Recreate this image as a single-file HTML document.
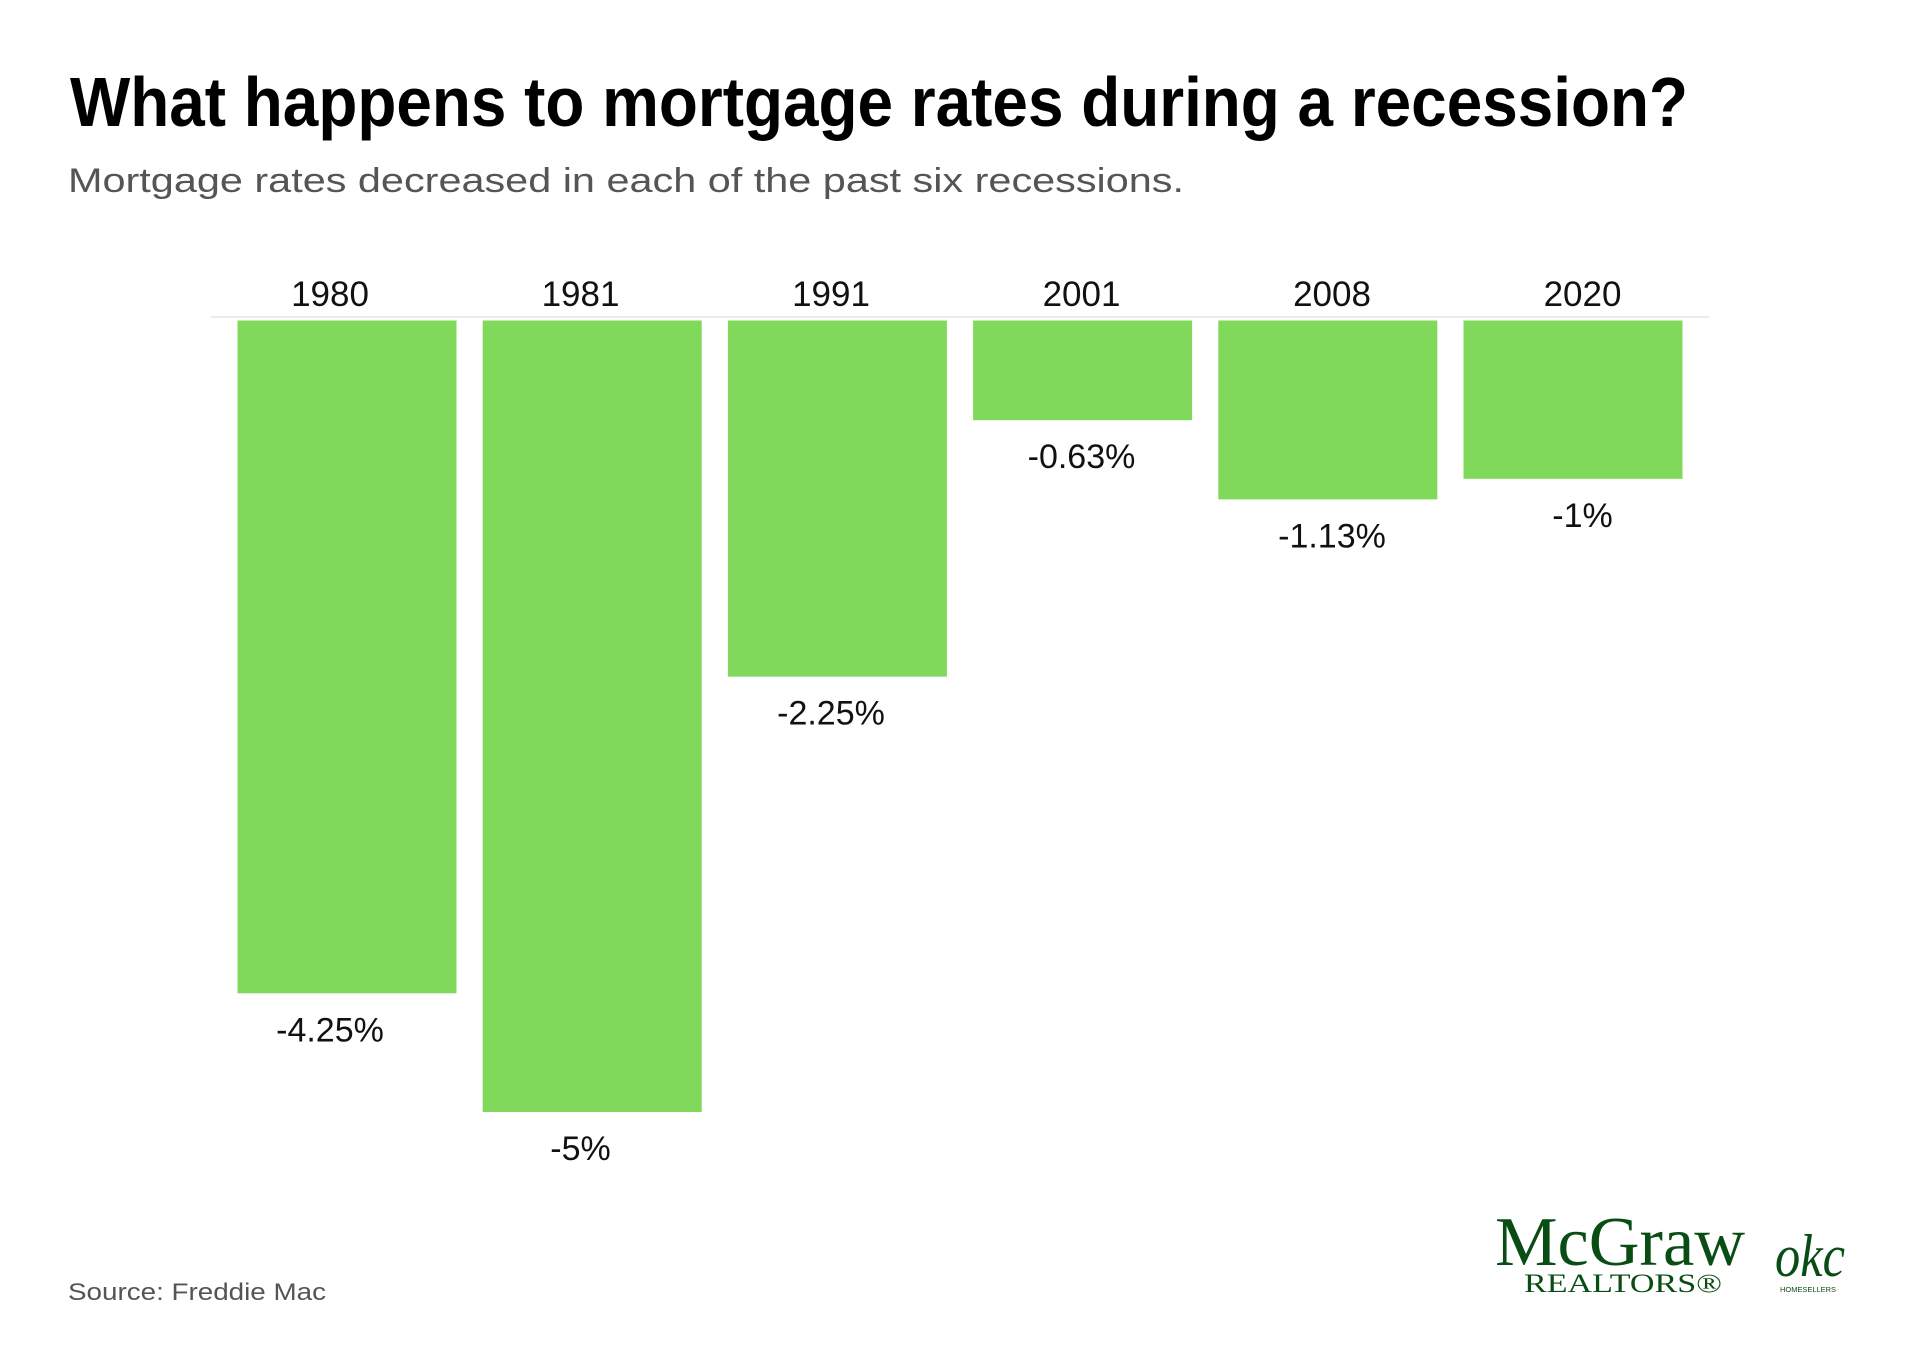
<!DOCTYPE html>
<html><head><meta charset="utf-8"><style>
html,body{margin:0;padding:0;background:#fff;}
svg{display:block;font-family:"Liberation Sans",sans-serif;}
</style></head><body>
<svg id="chart" width="1920" height="1350" viewBox="0 0 1920 1350" xmlns="http://www.w3.org/2000/svg">
<text x="70" y="126" font-size="70" font-weight="bold" fill="#000" textLength="1618" lengthAdjust="spacingAndGlyphs">What happens to mortgage rates during a recession?</text>
<text x="68" y="192" font-size="34" fill="#555" textLength="1116" lengthAdjust="spacingAndGlyphs">Mortgage rates decreased in each of the past six recessions.</text>
<line x1="211" y1="317" x2="1709" y2="317" stroke="#e6e6e6" stroke-width="1.5"/>
<g id="bars"></g>
<text x="68" y="1300" font-size="24" fill="#555" textLength="258" lengthAdjust="spacingAndGlyphs">Source: Freddie Mac</text>
<g fill="#0a4d14">
<text x="1495" y="1265" font-family="Liberation Serif, serif" font-size="70" textLength="250" lengthAdjust="spacingAndGlyphs">McGraw</text>
<text x="1524" y="1292" font-family="Liberation Serif, serif" font-size="26" textLength="198" lengthAdjust="spacingAndGlyphs">REALTORS®</text>
</g>
<g fill="#0a4d14">
<text x="1775" y="1276" font-family="Liberation Serif, serif" font-style="italic" font-size="60" textLength="70" lengthAdjust="spacingAndGlyphs">okc</text>
<text x="1780" y="1292" font-size="7" textLength="56" lengthAdjust="spacingAndGlyphs">HOMESELLERS</text>
</g>
</svg>
<script>
const categories = ["1980","1981","1991","2001","2008","2020"];
const values = [-4.25, -5, -2.25, -0.63, -1.13, -1];
const valueLabels = ["-4.25%","-5%","-2.25%","-0.63%","-1.13%","-1%"];
const NS = "http://www.w3.org/2000/svg";
const x0 = 237.5, step = 245.2, barW = 219, y0 = 320.5, pxPerPct = 158.3;
const lx0 = 330, lstep = 250.5;
function xScale(i){ return x0 + i*step; }
function labelX(i){ return lx0 + i*lstep; }
function yScale(v){ return y0 + (-v)*pxPerPct; }
const g = document.getElementById('bars');
categories.forEach((c,i)=>{
  const x = xScale(i), yb = yScale(values[i]);
  const r = document.createElementNS(NS,'rect');
  
  
  r.setAttribute('x', x); r.setAttribute('y', y0);
  r.setAttribute('width', barW); r.setAttribute('height', Math.max(0, yb - y0));
  r.setAttribute('fill', '#80d95a');
  g.appendChild(r);
  const t = document.createElementNS(NS,'text');
  
  
  t.setAttribute('x', labelX(i)); t.setAttribute('y', 306);
  t.setAttribute('text-anchor','middle'); t.setAttribute('font-size','35'); t.setAttribute('fill','#111');
  t.textContent = c;
  g.appendChild(t);
  const v = document.createElementNS(NS,'text');
  
  
  v.setAttribute('x', labelX(i)); v.setAttribute('y', yb + 48);
  v.setAttribute('text-anchor','middle'); v.setAttribute('font-size','34'); v.setAttribute('fill','#111');
  v.textContent = valueLabels[i];
  g.appendChild(v);
});
</script>
</body></html>
